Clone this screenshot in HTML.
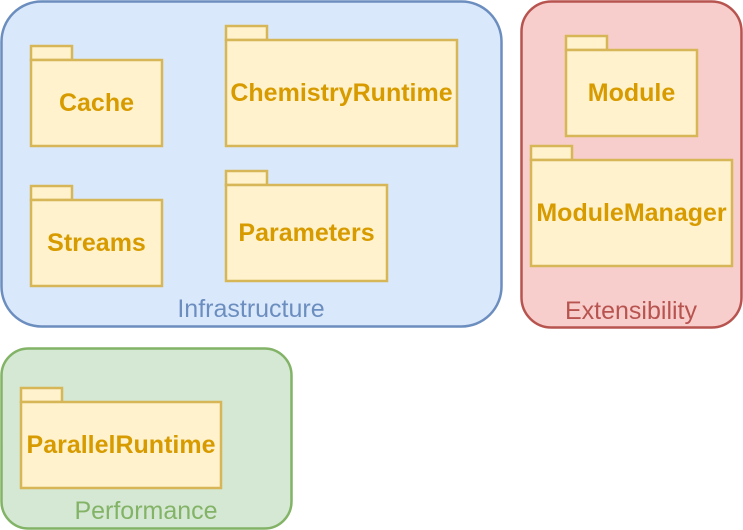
<!DOCTYPE html>
<html><head><meta charset="utf-8"><style>html,body{margin:0;padding:0;background:#fff}svg{display:block}</style></head>
<body>
<svg width="743" height="530" viewBox="0 0 743 530" xmlns="http://www.w3.org/2000/svg" font-family="Liberation Sans, Arial, sans-serif">
<rect x="1.5" y="1.5" width="500" height="325" rx="40" fill="#dae8fc" stroke="#6c8ebf" stroke-width="2.5"/>
<rect x="521.5" y="1.5" width="220" height="326" rx="30" fill="#f8cecc" stroke="#b85450" stroke-width="2.5"/>
<rect x="1.5" y="348.5" width="290" height="180" rx="27" fill="#d5e8d4" stroke="#82b366" stroke-width="2.5"/>
<g font-size="25" text-anchor="middle">
<text x="251" y="317" fill="#6c8ebf">Infrastructure</text>
<text x="631" y="319" fill="#b85450">Extensibility</text>
<text x="146" y="519" fill="#82b366">Performance</text>
</g>
<g fill="#fff2cc" stroke="#d6b656" stroke-width="2.5">
<rect x="31" y="46" width="41" height="14"/><rect x="31" y="60" width="131" height="86"/>
<rect x="226" y="26" width="41" height="14"/><rect x="226" y="40" width="231" height="106"/>
<rect x="31" y="186" width="41" height="14"/><rect x="31" y="200" width="131" height="86"/>
<rect x="226" y="171" width="41" height="14"/><rect x="226" y="185" width="161" height="96"/>
<rect x="566" y="36" width="41" height="14"/><rect x="566" y="50" width="131" height="86"/>
<rect x="531" y="146" width="41" height="14"/><rect x="531" y="160" width="201" height="106"/>
<rect x="21" y="388" width="41" height="14"/><rect x="21" y="402" width="200" height="86"/>
</g>
<g font-size="25" font-weight="bold" fill="#d79b00" text-anchor="middle">
<text x="96.5" y="111">Cache</text>
<text x="341.5" y="101">ChemistryRuntime</text>
<text x="96.5" y="251">Streams</text>
<text x="306.5" y="241">Parameters</text>
<text x="631.5" y="101">Module</text>
<text x="631.5" y="221">ModuleManager</text>
<text x="121" y="453">ParallelRuntime</text>
</g>
</svg>
</body></html>
